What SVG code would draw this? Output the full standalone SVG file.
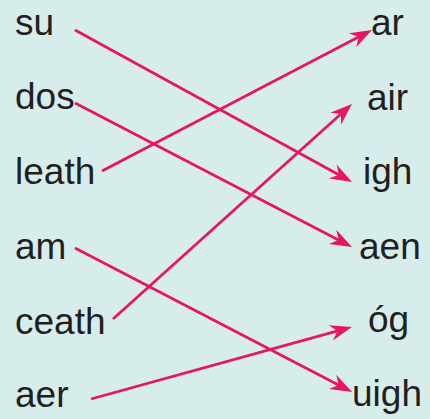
<svg xmlns="http://www.w3.org/2000/svg" width="430" height="419" viewBox="0 0 430 419">
<defs>
<style>
.lbl{font-family:"Liberation Sans",Arial,sans-serif;font-size:37px;fill:#231f20}
.con{stroke:#e8175d;stroke-width:2.8;fill:none;marker-end:url(#ah)}
</style>
<marker id="ah" markerUnits="userSpaceOnUse" viewBox="-11 -9 24 18" markerWidth="24" markerHeight="18" refX="0" refY="0" orient="auto">
<path d="M12,0 L-10,-8 L-3,0 L-10,8 Z" fill="#e8175d"/>
</marker>
</defs>
<rect width="430" height="419" fill="#d7edeb"/>
<g id="connectors">
<line class="con" x1="75" y1="30" x2="341.5" y2="176.2"/>
<line class="con" x1="75" y1="103" x2="341.4" y2="241.5"/>
<line class="con" x1="102" y1="171" x2="361.4" y2="35.6"/>
<line class="con" x1="75" y1="248" x2="341.4" y2="386.5"/>
<line class="con" x1="113" y1="319" x2="343.1" y2="112"/>
<line class="con" x1="91" y1="399" x2="340.4" y2="330.2"/>
</g>
<g id="su"><text class="lbl" x="15" y="35">su</text></g>
<g id="dos"><text class="lbl" x="15" y="109">dos</text></g>
<g id="leath"><text class="lbl" x="15" y="184">leath</text></g>
<g id="am"><text class="lbl" x="15" y="259">am</text></g>
<g id="ceath"><text class="lbl" x="15" y="334">ceath</text></g>
<g id="aer"><text class="lbl" x="15" y="407">aer</text></g>
<g id="ar"><text class="lbl" x="371" y="35">ar</text></g>
<g id="air"><text class="lbl" x="367" y="110">air</text></g>
<g id="igh"><text class="lbl" x="363" y="184">igh</text></g>
<g id="aen"><text class="lbl" x="359" y="259">aen</text></g>
<g id="og"><text class="lbl" x="368" y="332">óg</text></g>
<g id="uigh"><text class="lbl" x="352" y="406">uigh</text></g>
</svg>
